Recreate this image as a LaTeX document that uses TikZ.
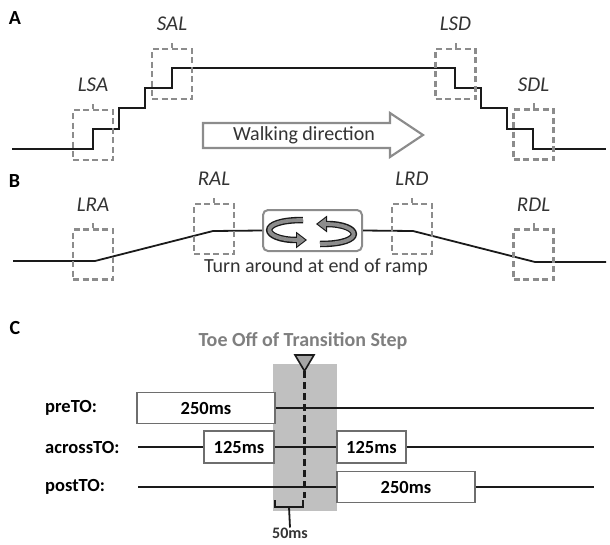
\documentclass[tikz,border=0pt]{standalone}
\usepackage{fontspec}
\setmainfont{Carlito}
\usetikzlibrary{arrows.meta}
\definecolor{rppreto}{HTML}{1A1A1A}
\definecolor{rpcinza}{HTML}{8C8C8C}
\definecolor{rpcinzaescuro}{HTML}{6E6E6E}
\definecolor{rptexto}{HTML}{333333}
\definecolor{rptitulo}{HTML}{7F7F7F}
\definecolor{rpfaixa}{HTML}{C0C0C0}
\definecolor{rpmarca}{HTML}{A6A6A6}
\tikzset{
  rpzona/.style={draw=rpcinza, line width=2.2pt, dash pattern=on 6pt off 3.5pt,
                 minimum width=40pt, minimum height=50pt, inner sep=0pt},
  rprotulo/.style={font=\fontsize{21}{25}\selectfont\itshape, text=rptexto, inner sep=0pt},
  rppino/.style={draw=rpcinza, line width=2pt},
  rpperfil/.style={draw=rppreto, line width=2pt},
  rpletra/.style={font=\fontsize{20}{24}\selectfont\bfseries, inner sep=0pt},
  rptexto/.style={font=\fontsize{20}{24}\selectfont, text=rptexto, inner sep=0pt},
  rpseta/.style={draw=rpcinza, line width=2.2pt, fill=white, line join=miter},
  rplinha/.style={draw=rppreto, line width=1.8pt},
  rpcaixa/.style={draw=rpcinzaescuro, line width=1.8pt, fill=white, inner sep=0pt,
                  font=\fontsize{18.5}{22}\selectfont\bfseries},
  rpnome/.style={font=\fontsize{18.5}{22}\selectfont\bfseries, inner sep=0pt, anchor=west},
}
\begin{document}
\begin{tikzpicture}[x=1pt, y=-1pt,
        giroseta/.style={draw=rppreto, line width=6.5pt, -{Triangle[length=11pt, width=16pt]}},
        giromiolo/.style={draw=rpcinza, line width=3.8pt, shorten >=1.8pt, -{Triangle[length=8pt, width=11.5pt]}},
        tracejado/.style={draw=rppreto, line width=2.6pt, dash pattern=on 7pt off 4pt}
    ]
        \useasboundingbox (0,0) rectangle (610,544);
        % A: escada
        \node[rpletra] (letraA) at (15,18) {A};
        \draw[rpperfil] (12,149) -- (93,149) -- (93,129) -- (119,129) -- (119,108) -- (145,108)
            -- (145,88) -- (172,88) -- (172,68) -- (455,68) -- (455,88) -- (481,88) -- (481,108)
            -- (507,108) -- (507,129) -- (533,129) -- (533,149) -- (606,149);
        \node[rpzona, label={[rprotulo, label distance=17pt]above:LSA}] (lsa) at (93,135) {};
        \node[rpzona, label={[rprotulo, label distance=17pt]above:SAL}] (sal) at (172,74) {};
        \node[rpzona, label={[rprotulo, label distance=17pt]above:LSD}] (lsd) at (455.5,74) {};
        \node[rpzona, label={[rprotulo, label distance=17pt]above:SDL}] (sdl) at (533.5,134.5) {};
        \draw[rppino] (lsa.north) -- ++(0,-5);
        \draw[rppino] (sal.north) -- ++(0,-5);
        \draw[rppino] (lsd.north) -- ++(0,-5);
        \draw[rppino] (sdl.north) -- ++(0,-5);
        % seta de direcao
        \draw[rpseta] (203,123) -- (390,123) -- (390,113) -- (423,135) -- (390,157) -- (390,148)
            -- (203,148) -- cycle;
        \node[rptexto] (andar) at (304,135.5) {Walking direction};
        % B: rampa
        \node[rpletra] (letraB) at (14.5,181) {B};
        \node[draw=rpcinza, line width=2pt, rounded corners=5pt, fill=white,
              minimum width=99pt, minimum height=41pt] (giro) at (312.5,230.5) {};
        \draw[rpperfil, line width=1.8pt] (13,261) -- (95,261) -- (213,231) -- (giro.west);
        \draw[rpperfil, line width=1.8pt] (giro.east) -- (413,231) -- (535,262) -- (606,262);
        \draw[giroseta] (303,220) .. controls (256,220) and (262,240) .. (307,240);
        \draw[giromiolo] (303,220) .. controls (256,220) and (262,240) .. (307,240);
        \draw[giroseta] (320,244) .. controls (367,244) and (361,224) .. (316,224);
        \draw[giromiolo] (320,244) .. controls (367,244) and (361,224) .. (316,224);
        \node[rptexto] (girotexto) at (316,267) {Turn around at end of ramp};
        \node[rpzona, label={[rprotulo, label distance=17pt]above:LRA}] (lra) at (93,254.5) {};
        \node[rpzona, label={[rprotulo, label distance=17pt]above:RAL}] (ral) at (214,229) {};
        \node[rpzona, label={[rprotulo, label distance=17pt]above:LRD}] (lrd) at (412,229) {};
        \node[rpzona, label={[rprotulo, label distance=17pt]above:RDL}] (rdl) at (533.5,254.5) {};
        \draw[rppino] (lra.north) -- ++(0,-5);
        \draw[rppino] (ral.north) -- ++(0,-5);
        \draw[rppino] (lrd.north) -- ++(0,-5);
        \draw[rppino] (rdl.north) -- ++(0,-5);
        % C: janelas
        \node[rpletra] (letraC) at (15,328) {C};
        \node[font=\fontsize{20}{24}\selectfont\bfseries, text=rptitulo, inner sep=0pt] (titulo)
            at (303,341) {Toe Off of Transition Step};
        \fill[rpfaixa] (273,364) rectangle (337,511);
        \node[rpnome] (pre) at (45,408) {preTO:};
        \node[rpnome] (across) at (45,447) {acrossTO:};
        \node[rpnome] (post) at (45,487) {postTO:};
        \coordinate (preFim) at (594,408);
        \coordinate (acrossIni) at (138,447);
        \coordinate (acrossFim) at (594,447);
        \coordinate (postIni) at (138,487);
        \coordinate (postFim) at (594,487);
        \node[rpcaixa, minimum width=138pt, minimum height=31pt] (pre250) at (206,408) {250ms};
        \node[rpcaixa, minimum width=70pt, minimum height=32pt] (acr125a) at (239,447) {125ms};
        \node[rpcaixa, minimum width=69pt, minimum height=32pt] (acr125b) at (371.5,447) {125ms};
        \node[rpcaixa, minimum width=138pt, minimum height=31pt] (post250) at (406,487) {250ms};
        \draw[rplinha] (pre250.east) -- (preFim);
        \draw[rplinha] (acrossIni) -- (acr125a.west);
        \draw[rplinha] (acr125a.east) -- (acr125b.west);
        \draw[rplinha] (acr125b.east) -- (acrossFim);
        \draw[rplinha] (postIni) -- (post250.west);
        \draw[rplinha] (post250.east) -- (postFim);
        % marca do toe off
        \coordinate (toe) at (304.5,371);
        \coordinate (toeFim) at (304.5,498);
        \draw[tracejado] (toe) -- (toeFim);
        \draw[fill=rpmarca, draw=rppreto, line width=1.6pt, line join=miter]
            (295,355) -- (314,355) -- (toe) -- cycle;
        % 50ms
        \draw[rplinha] (275,500) -- (275,507) -- (303,507) -- (303,500);
        \coordinate (chave) at (289,507);
        \node[font=\fontsize{16}{19}\selectfont\bfseries, text=rptexto, inner sep=0pt] (cinquenta)
            at (290,533) {50ms};
        \draw[rplinha] (chave) -- (cinquenta.north);
\end{tikzpicture}
\end{document}
